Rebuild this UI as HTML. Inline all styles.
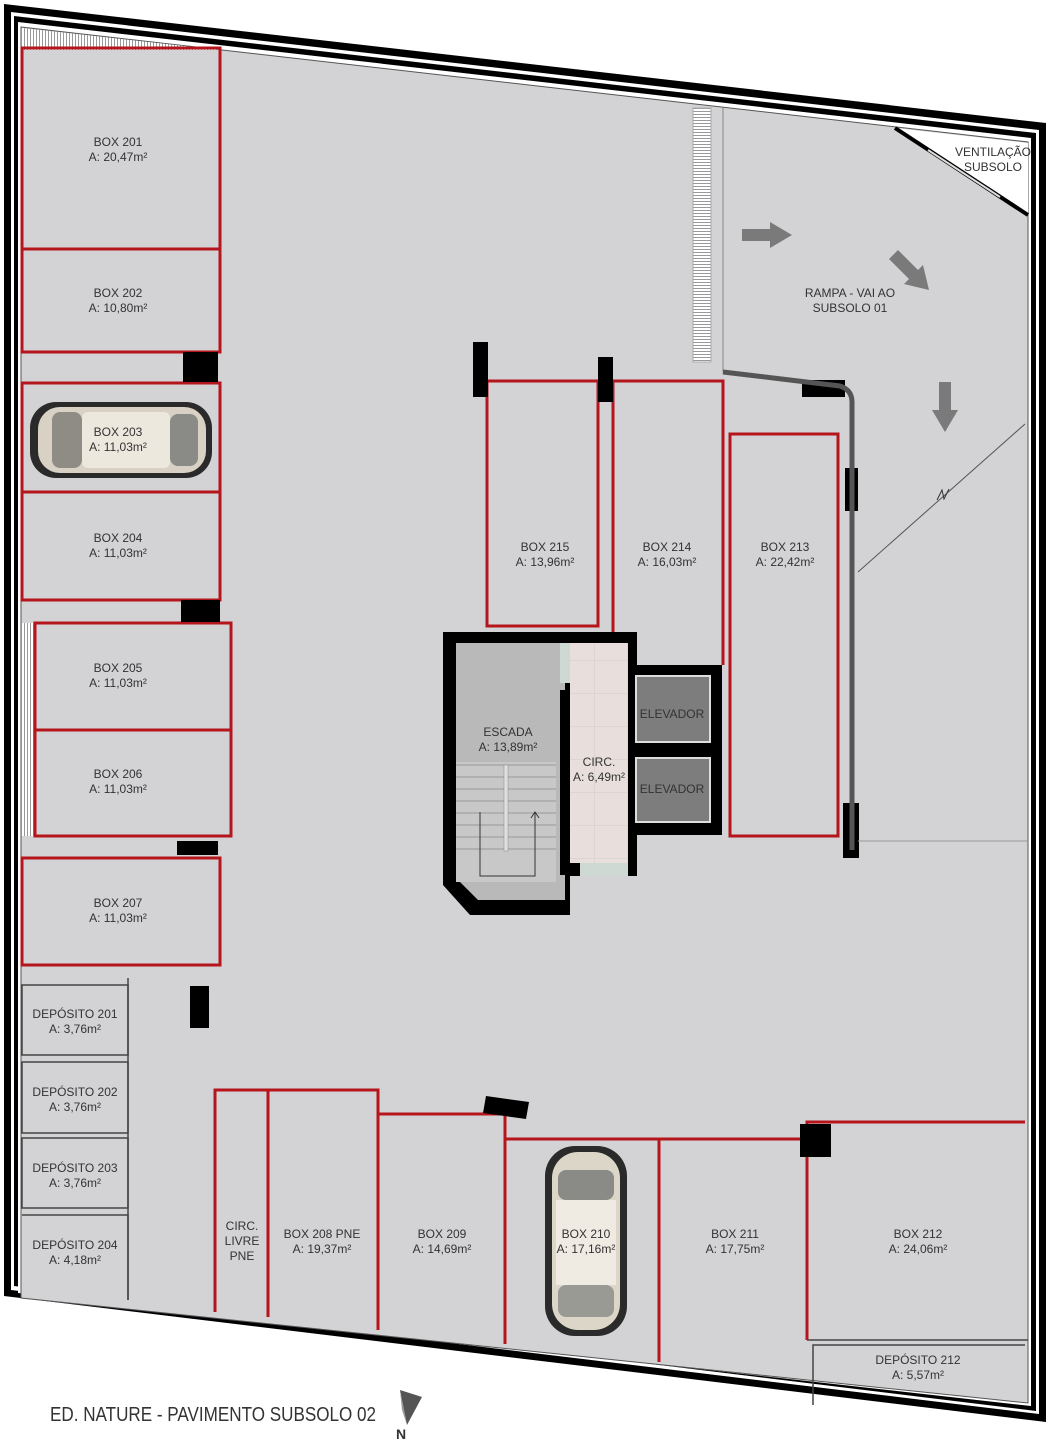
<!DOCTYPE html>
<html><head><meta charset="utf-8"><style>
html,body{margin:0;padding:0;background:#fff}
svg{display:block}
text{font-family:"Liberation Sans Narrow","Liberation Sans",sans-serif;fill:#333;text-anchor:middle}
</style></head><body>
<svg width="1049" height="1440" viewBox="0 0 1049 1440" xmlns="http://www.w3.org/2000/svg" font-size="12">
<defs>
<pattern id="hatch" width="3" height="3" patternUnits="userSpaceOnUse"><rect width="3" height="3" fill="#fff"/><rect width="1" height="3" fill="#999"/></pattern>
<pattern id="hatchH" width="3" height="3" patternUnits="userSpaceOnUse"><rect width="3" height="3" fill="#fff"/><rect width="3" height="1" fill="#999"/></pattern>
<pattern id="tile" width="33" height="33" patternUnits="userSpaceOnUse"><rect width="33" height="33" fill="#e8dfdc"/><path d="M0 0H33M0 0V33" stroke="#d4cac6" stroke-width="1"/></pattern>
</defs>
<!-- outer walls -->
<polygon points="4,4 1046,123 1046,1422 4,1296" fill="#000"/>
<polygon points="11,12 1039,130 1039,1414 11,1290" fill="#fff"/>
<polygon points="14,16 1036,133 1036,1411 14,1286" fill="#000"/>
<polygon points="18,22 1031,138 1031,1406 18,1293" fill="#fff"/>
<polygon points="21,27 1028,142 1028,1403 21,1298" fill="#d3d2d4" stroke="#555" stroke-width="1"/>
<!-- top hatch strip -->
<polygon points="22,28 220,50 22,50" fill="url(#hatch)"/>
<!-- ventilation -->
<polygon points="895,128 1028,143 1028,215" fill="#fff"/>
<line x1="895" y1="128" x2="1028" y2="215" stroke="#000" stroke-width="4"/>
<line x1="928" y1="150" x2="1000" y2="197" stroke="#ddd" stroke-width="2"/>
<text x="993" y="156">VENTILAÇÃO</text>
<text x="993" y="171">SUBSOLO</text>
<!-- left hatch by 205/206 -->
<rect x="22" y="623" width="12" height="213" fill="url(#hatch)"/>
<!-- ramp hatch -->
<rect x="693" y="108" width="18" height="254" fill="url(#hatchH)" stroke="#aaa"/>
<line x1="723" y1="108" x2="723" y2="372" stroke="#888" stroke-width="1"/>
<!-- red boxes -->
<g fill="none" stroke="#b5161c" stroke-width="3">
<rect x="22" y="48" width="198" height="201"/>
<rect x="22" y="249" width="198" height="103"/>
<rect x="22" y="383" width="198" height="109"/>
<rect x="22" y="492" width="198" height="108"/>
<rect x="35" y="623" width="196" height="107"/>
<rect x="35" y="730" width="196" height="106"/>
<rect x="22" y="858" width="198" height="107"/>
<rect x="487" y="381" width="111" height="245"/>
<polyline points="613,664 613,381 723,381 723,665"/>
<rect x="730" y="434" width="108" height="402"/>
<polyline points="215,1312 215,1090 378,1090 378,1330"/>
<line x1="268" y1="1090" x2="268" y2="1317"/>
<polyline points="378,1114 505,1114 505,1344"/>
<polyline points="505,1139 807,1139"/>
<line x1="659" y1="1139" x2="659" y2="1362"/>
<polyline points="807,1340 807,1122 1025,1122"/>
</g>
<!-- black blocks -->
<g fill="#000">
<rect x="183" y="352" width="35" height="30"/>
<rect x="181" y="600" width="39" height="22"/>
<rect x="177" y="841" width="41" height="14"/>
<rect x="190" y="986" width="19" height="42"/>
<rect x="473" y="342" width="15" height="55"/>
<rect x="598" y="357" width="15" height="45"/>
<rect x="802" y="380" width="43" height="17"/>
<rect x="845" y="468" width="13" height="43"/>
<rect x="843" y="803" width="16" height="55"/>
<rect x="800" y="1124" width="31" height="33"/>
<polygon points="486,1096 529,1102 526,1119 483,1113"/>
</g>
<!-- ramp wall -->
<path d="M723 372 L840 386 Q852 390 852 402 L852 850" fill="none" stroke="#555" stroke-width="5"/>
<line x1="858" y1="572" x2="1025" y2="424" stroke="#555" stroke-width="1"/>
<path d="M937 500 L942 490 L944 499 L949 489" fill="none" stroke="#333" stroke-width="1"/>
<line x1="858" y1="841" x2="1027" y2="841" stroke="#999" stroke-width="1"/>
<!-- arrows -->
<g fill="#7a7a7a">
<polygon points="742,229 770,229 770,222 792,235 770,248 770,241 742,241"/>
<polygon points="898,250 918,270 923,265 929,290 904,284 909,279 889,259"/>
<polygon points="939,382 951,382 951,410 958,410 945,432 932,410 939,410"/>
</g>
<text x="850" y="297">RAMPA  - VAI AO</text>
<text x="850" y="312">SUBSOLO 01</text>
<!-- depositos -->
<g fill="none" stroke="#444" stroke-width="1.5">
<rect x="22" y="985" width="106" height="70"/>
<rect x="22" y="1062" width="106" height="71"/>
<rect x="22" y="1138" width="106" height="70"/>
<polyline points="22,1215 128,1215 128,1300"/>
<line x1="128" y1="978" x2="128" y2="1300"/>
<polyline points="813,1405 813,1345 1025,1345"/>
<line x1="807" y1="1340" x2="1028" y2="1340"/>
</g>
<!-- stair core -->
<polygon points="443,632 637,632 637,665 722,665 722,835 637,835 637,876 570,876 570,915 470,915 443,885" fill="#000"/>
<polygon points="456,643 565,643 565,900 478,900 456,878" fill="#b9b9b9"/>
<rect x="456" y="762" width="100" height="120" fill="#c8c8c8"/>
<g stroke="#999" stroke-width="1">
<line x1="456" y1="765" x2="556" y2="765"/><line x1="456" y1="777" x2="556" y2="777"/><line x1="456" y1="789" x2="556" y2="789"/><line x1="456" y1="801" x2="556" y2="801"/><line x1="456" y1="813" x2="556" y2="813"/><line x1="456" y1="825" x2="556" y2="825"/><line x1="456" y1="837" x2="556" y2="837"/><line x1="456" y1="849" x2="556" y2="849"/>
</g>
<rect x="504" y="765" width="4" height="86" fill="#e0e0e0" stroke="#888" stroke-width="0.5"/>
<polyline points="480,812 480,876 535,876 535,812" fill="none" stroke="#333" stroke-width="1"/>
<path d="M531 818 L535 812 L539 818" fill="none" stroke="#333"/>
<rect x="570" y="643" width="58" height="220" fill="url(#tile)"/>
<rect x="560" y="643" width="10" height="40" fill="#cfd9d4"/>
<rect x="580" y="863" width="48" height="13" fill="#cfd9d4"/>
<rect x="560" y="690" width="9" height="185" fill="#000"/>
<rect x="636" y="676" width="74" height="66" fill="#7d7d7d" stroke="#ddd" stroke-width="2"/>
<rect x="636" y="758" width="74" height="64" fill="#7d7d7d" stroke="#ddd" stroke-width="2"/>
<text x="508" y="736">ESCADA</text>
<text x="508" y="751">A: 13,89m²</text>
<text x="599" y="766">CIRC.</text>
<text x="599" y="781">A: 6,49m²</text>
<text x="672" y="718" fill="#222">ELEVADOR</text>
<text x="672" y="793" fill="#222">ELEVADOR</text>
<!-- cars -->
<g>
<rect x="30" y="402" width="182" height="76" rx="26" fill="#2a2a2a"/>
<rect x="38" y="407" width="168" height="66" rx="22" fill="#d9d2c4"/>
<rect x="52" y="412" width="30" height="56" rx="8" fill="#8f8c86"/>
<rect x="82" y="412" width="88" height="56" rx="6" fill="#ece8de"/>
<rect x="170" y="414" width="28" height="52" rx="8" fill="#8a8a86"/>
</g>
<g>
<rect x="545" y="1146" width="82" height="190" rx="30" fill="#2a2a2a"/>
<rect x="552" y="1152" width="68" height="178" rx="26" fill="#dcd6c8"/>
<rect x="558" y="1170" width="56" height="30" rx="8" fill="#8a8a86"/>
<rect x="558" y="1285" width="56" height="32" rx="8" fill="#9a9a94"/>
<rect x="556" y="1200" width="60" height="85" fill="#efebe2"/>
</g>
<!-- labels -->
<text x="118" y="146">BOX 201</text><text x="118" y="161">A: 20,47m²</text>
<text x="118" y="297">BOX 202</text><text x="118" y="312">A: 10,80m²</text>
<text x="118" y="436">BOX 203</text><text x="118" y="451">A: 11,03m²</text>
<text x="118" y="542">BOX 204</text><text x="118" y="557">A: 11,03m²</text>
<text x="118" y="672">BOX 205</text><text x="118" y="687">A: 11,03m²</text>
<text x="118" y="778">BOX 206</text><text x="118" y="793">A: 11,03m²</text>
<text x="118" y="907">BOX 207</text><text x="118" y="922">A: 11,03m²</text>
<text x="75" y="1018">DEPÓSITO 201</text><text x="75" y="1033">A: 3,76m²</text>
<text x="75" y="1096">DEPÓSITO 202</text><text x="75" y="1111">A: 3,76m²</text>
<text x="75" y="1172">DEPÓSITO 203</text><text x="75" y="1187">A: 3,76m²</text>
<text x="75" y="1249">DEPÓSITO 204</text><text x="75" y="1264">A: 4,18m²</text>
<text x="545" y="551">BOX 215</text><text x="545" y="566">A: 13,96m²</text>
<text x="667" y="551">BOX 214</text><text x="667" y="566">A: 16,03m²</text>
<text x="785" y="551">BOX 213</text><text x="785" y="566">A: 22,42m²</text>
<text x="242" y="1230">CIRC.</text><text x="242" y="1245">LIVRE</text><text x="242" y="1260">PNE</text>
<text x="322" y="1238">BOX 208 PNE</text><text x="322" y="1253">A: 19,37m²</text>
<text x="442" y="1238">BOX 209</text><text x="442" y="1253">A: 14,69m²</text>
<text x="586" y="1238">BOX 210</text><text x="586" y="1253">A: 17,16m²</text>
<text x="735" y="1238">BOX 211</text><text x="735" y="1253">A: 17,75m²</text>
<text x="918" y="1238">BOX 212</text><text x="918" y="1253">A: 24,06m²</text>
<text x="918" y="1364">DEPÓSITO 212</text><text x="918" y="1379">A: 5,57m²</text>
<text x="50" y="1421" font-size="20" style="text-anchor:start" fill="#222" textLength="326" lengthAdjust="spacingAndGlyphs">ED. NATURE - PAVIMENTO SUBSOLO 02</text>
<polygon points="400,1390 422,1397 407,1425" fill="#555"/>
<polygon points="400,1390 407,1425 402,1410" fill="#999"/>
<text x="401" y="1439" font-size="14" font-weight="bold" fill="#222">N</text>
</svg>
</body></html>
